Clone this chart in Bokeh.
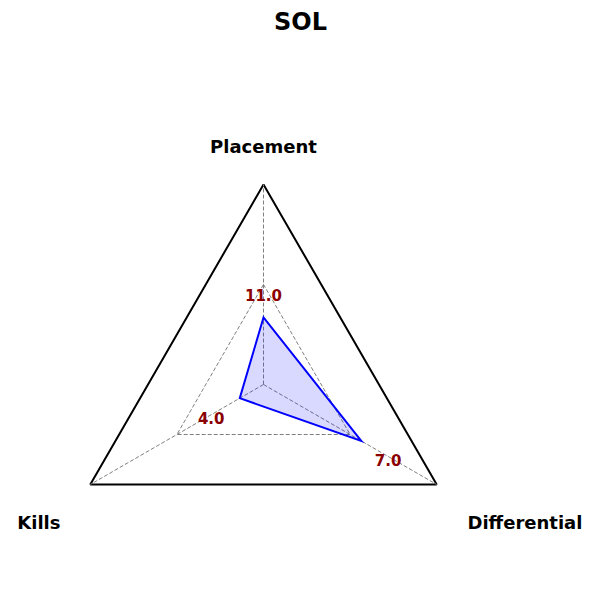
import numpy as np
from bokeh.plotting import figure
from bokeh.models import Range1d
from bokeh.core.properties import value
from bokeh.embed import file_html
from bokeh.resources import INLINE

title = "SOL"
axes_names = ["Placement", "Kills", "Differential"]
values = [11.0, 4.0, 7.0]
scale_max = [32.8, 29.2, 12.4]
value_labels = ["11.0", "4.0", "7.0"]

angles = np.deg2rad([90, 210, 330])
label_offset = [0.11, 0.165, 0.155]
label_dy = [0.0, -0.015, -0.02]

W = H = 592
cx, cy = 263, 384  # center in figure pixels
R = 200.0
p = figure(width=W, height=H, output_backend="svg", toolbar_location=None,
           x_range=Range1d(-cx / R, (W - cx) / R), y_range=Range1d(-(H - cy) / R, cy / R),
           min_border=0)
p.axis.visible = False
p.grid.visible = False
p.outline_line_color = None

ox = np.cos(angles)
oy = np.sin(angles)

# outer triangle
p.patch(list(ox), list(oy), fill_color=None, line_color="black", line_width=2)
# inner dashed triangle
p.patch(list(0.5 * ox), list(0.5 * oy), fill_color=None, line_color="gray",
        line_width=1, line_dash="4 2")
# spokes
for a, b in zip(ox, oy):
    p.line([0, a], [0, b], line_color="gray", line_width=1, line_dash="4 2")

r = np.array(values) / np.array(scale_max)
px = r * ox
py = r * oy
p.patch(list(px), list(py), fill_color="blue", fill_alpha=0.15, line_color="blue",
        line_width=2, line_join="miter")

lr = r + np.array(label_offset)
p.text(list(lr * ox), list(lr * oy + np.array(label_dy)), text=value_labels,
       text_color="#8B0000",
       text_font=value("DejaVu Sans"), text_font_style="bold", text_font_size="15px",
       text_align="center", text_baseline="middle")

# axis labels
p.text([0], [1.19], text=[axes_names[0]], text_font=value("DejaVu Sans"),
       text_font_style="bold", text_font_size="18px", text_align="center",
       text_baseline="middle", text_color="black")
p.text([-1.015], [-0.69], text=[axes_names[1]], text_font=value("DejaVu Sans"),
       text_font_style="bold", text_font_size="18px", text_align="right",
       text_baseline="middle", text_color="black")
p.text([1.02], [-0.69], text=[axes_names[2]], text_font=value("DejaVu Sans"),
       text_font_style="bold", text_font_size="18px", text_align="left",
       text_baseline="middle", text_color="black")

# title
p.text([(300 - cx) / R], [(cy - 21) / R], text=[title], text_font=value("DejaVu Sans"),
       text_font_style="bold", text_font_size="24px", text_align="center",
       text_baseline="middle", text_color="black")

open("out.html", "w").write(file_html(p, INLINE))
